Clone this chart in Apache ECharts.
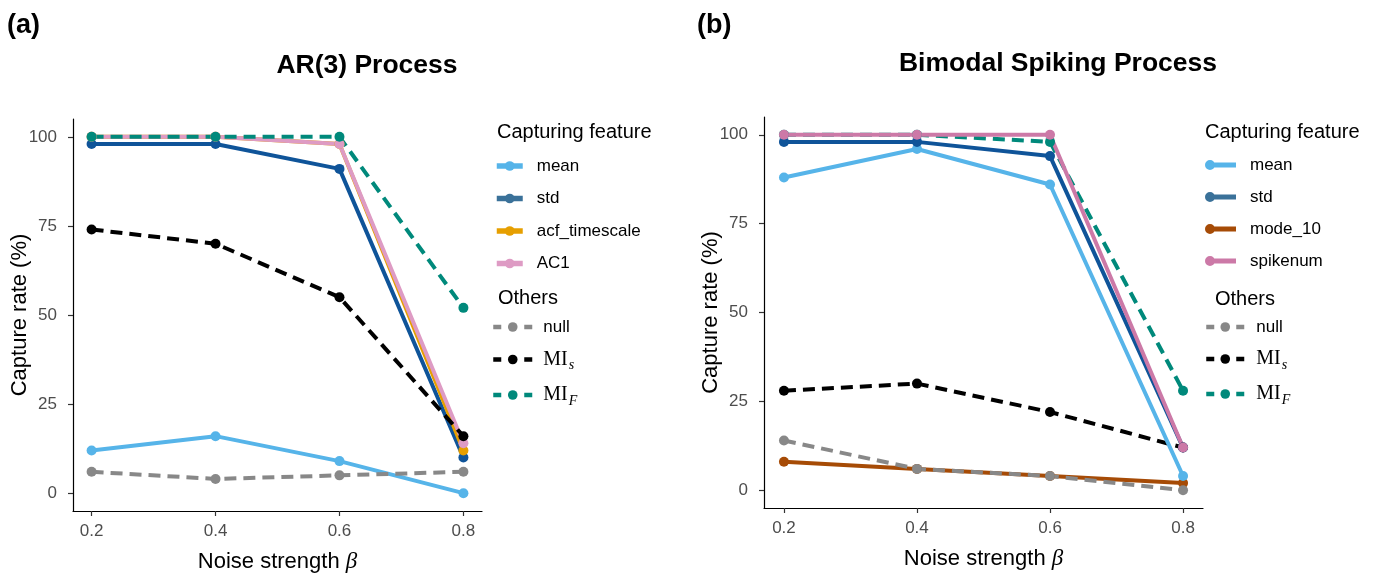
<!DOCTYPE html>
<html><head><meta charset="utf-8">
<script src="https://cdn.jsdelivr.net/npm/echarts@6/dist/echarts.min.js"></script>
<style>html,body{margin:0;padding:0;background:#fff}#c{width:1380px;height:573px}</style>
</head><body><div id="c"></div>
<script>
// ---- data ----
const betas = [0.2, 0.4, 0.6, 0.8];
const xTicks = [0.2, 0.4, 0.6, 0.8];
const yTicks = [0, 25, 50, 75, 100];
// panel (a) AR(3) Process
const arMean = [12, 16, 9, 0];
const arStd = [98, 98, 91, 10];
const arAcf = [100, 100, 98, 12];
const arAC1 = [100, 100, 98, 14];
const arNull = [6, 4, 5, 6];
const arMIs = [74, 70, 55, 16];
const arMIF = [100, 100, 100, 52];
// panel (b) Bimodal Spiking Process
const bsMean = [88, 96, 86, 4];
const bsStd = [98, 98, 94, 12];
const bsMode = [8, 6, 4, 2];
const bsSpike = [100, 100, 100, 12];
const bsNull = [14, 6, 4, 0];
const bsMIs = [28, 30, 22, 12];
const bsMIF = [100, 100, 98, 28];

const C = {
  mean: '#56B4E9', std: '#0F5499', stdKey: '#3A7199', acf: '#E69F00', ac1: '#DE9BC4', spike: '#CC79A7',
  mode: '#A64B06', nul: '#888888', mis: '#000000', mif: '#00897B'
};
const SANS = '"Liberation Sans", Arial, Helvetica, sans-serif';
const SERIF = '"Liberation Serif", "DejaVu Serif", serif';

function mk(name, vals, color, dashed, gi) {
  return {
    type: 'line', name, xAxisIndex: gi, yAxisIndex: gi,
    data: betas.map((b, i) => [b, vals[i]]),
    symbol: 'circle', symbolSize: 10, showSymbol: true,
    lineStyle: { color, width: 4, type: dashed ? [12, 7] : 'solid' },
    itemStyle: { color },
    emphasis: { disabled: true }, silent: true
  };
}

function xAxis(gi) {
  return {
    type: 'value', gridIndex: gi, min: 0.17, max: 0.83,
    name: 'Noise strength {b|β}', nameLocation: 'middle', nameGap: 39, nameMoveOverlap: false,
    nameTextStyle: { fontFamily: SANS, fontSize: 22, color: '#000',
      rich: { b: { fontFamily: SERIF, fontStyle: 'italic', fontSize: 23, color: '#000' } } },
    axisLine: { show: true, onZero: false, lineStyle: { color: '#000', width: 1.2 } },
    axisTick: { show: true, length: 5, lineStyle: { color: '#333', width: 1.2 }, customValues: xTicks },
    axisLabel: { fontFamily: SANS, fontSize: 17, color: '#4D4D4D', margin: 12, customValues: xTicks,
      formatter: v => v.toFixed(1) },
    splitLine: { show: false }
  };
}
function yAxis(gi) {
  return {
    type: 'value', gridIndex: gi, min: -5, max: 105,
    name: 'Capture rate (%)', nameLocation: 'middle', nameGap: 42, nameMoveOverlap: false,
    nameTextStyle: { fontFamily: SANS, fontSize: 22, color: '#000' },
    axisLine: { show: true, onZero: false, lineStyle: { color: '#000', width: 1.2 } },
    axisTick: { show: true, length: 5, lineStyle: { color: '#333', width: 1.2 }, customValues: yTicks },
    axisLabel: { fontFamily: SANS, fontSize: 17, color: '#4D4D4D', margin: 16, customValues: yTicks },
    splitLine: { show: false }
  };
}

const richLeg = {
  mi: { fontFamily: SERIF, fontSize: 20, lineHeight: 20, color: '#000' },
  sub: { fontFamily: SERIF, fontStyle: 'italic', fontSize: 14, lineHeight: 12, verticalAlign: 'bottom', color: '#000', padding: [0, 0, -3, 1] }
};
const legFmt = n => n === 'MI_s' ? '{mi|MI}{sub|s}' : n === 'MI_F' ? '{mi|MI}{sub|F}' : n;

function legText(padLeft) {
  return { fontFamily: SANS, fontSize: 17, color: '#000', lineHeight: 20, padding: [0, 0, 0, padLeft], rich: richLeg };
}
const leftDotIcon = 'path://M0,5a5,5 0 1,1 10,0a5,5 0 1,1 -10,0zM8,2.5H31V7.5H8z';

const option = {
  animation: false,
  backgroundColor: '#fff',
  grid: [
    { left: 73, top: 119, width: 409, height: 392, outerBoundsMode: 'none', containLabel: false },
    { left: 764, top: 117, width: 439, height: 391, outerBoundsMode: 'none', containLabel: false }
  ],
  xAxis: [xAxis(0), xAxis(1)],
  yAxis: [yAxis(0), yAxis(1)],
  legend: [
    { orient: 'vertical', left: 494, top: 156, padding: 0, itemGap: 12.5, itemWidth: 26, itemHeight: 12,
      data: ['mean', { name: 'std', itemStyle: { color: C.stdKey }, lineStyle: { color: C.stdKey } }, 'acf_timescale', 'AC1'],
      selectedMode: false,
      lineStyle: { width: 5.5, type: 'solid' }, textStyle: legText(9) },
    { orient: 'vertical', left: 491, top: 317, padding: 0, itemGap: 12.5, itemWidth: 39, itemHeight: 12,
      data: ['null', 'MI_s', 'MI_F'], selectedMode: false, formatter: legFmt,
      lineStyle: { width: 4.5, type: [8, 23] }, textStyle: legText(6) },
    { orient: 'vertical', left: 1205, top: 155, padding: 0, itemGap: 12, itemWidth: 31, itemHeight: 10,
      data: [
        { name: 'mean', icon: leftDotIcon, itemStyle: { color: C.mean } },
        { name: 'std', icon: leftDotIcon, itemStyle: { color: C.stdKey } },
        { name: 'mode_10', icon: leftDotIcon, itemStyle: { color: C.mode } },
        { name: 'spikenum', icon: leftDotIcon, itemStyle: { color: C.spike } }
      ], selectedMode: false, textStyle: legText(9) },
    { orient: 'vertical', left: 1204, top: 317, padding: 0, itemGap: 12, itemWidth: 38, itemHeight: 12,
      data: ['null', 'MI_s', 'MI_F'], selectedMode: false, formatter: legFmt,
      lineStyle: { width: 4.5, type: [8, 22] }, textStyle: legText(7) }
  ],
  graphic: [
    { type: 'text', left: 7, top: 12, style: { text: '(a)', font: 'bold 27px ' + SANS, fill: '#000' } },
    { type: 'text', left: 697, top: 12, style: { text: '(b)', font: 'bold 27px ' + SANS, fill: '#000' } },
    { type: 'text', x: 367, y: 66, style: { text: 'AR(3) Process', font: 'bold 26.5px ' + SANS, fill: '#000', align: 'center', verticalAlign: 'middle' } },
    { type: 'text', x: 1058, y: 64, style: { text: 'Bimodal Spiking Process', font: 'bold 26.5px ' + SANS, fill: '#000', align: 'center', verticalAlign: 'middle' } },
    { type: 'text', x: 497, y: 132, style: { text: 'Capturing feature', font: '20px ' + SANS, fill: '#000', verticalAlign: 'middle' } },
    { type: 'text', x: 498, y: 298, style: { text: 'Others', font: '20px ' + SANS, fill: '#000', verticalAlign: 'middle' } },
    { type: 'text', x: 1205, y: 132, style: { text: 'Capturing feature', font: '20px ' + SANS, fill: '#000', verticalAlign: 'middle' } },
    { type: 'text', x: 1215, y: 299, style: { text: 'Others', font: '20px ' + SANS, fill: '#000', verticalAlign: 'middle' } }
  ],
  series: [
    mk('mean', arMean, C.mean, false, 0),
    mk('std', arStd, C.std, false, 0),
    mk('acf_timescale', arAcf, C.acf, false, 0),
    mk('AC1', arAC1, C.ac1, false, 0),
    mk('null', arNull, C.nul, true, 0),
    mk('MI_s', arMIs, C.mis, true, 0),
    mk('MI_F', arMIF, C.mif, true, 0),

    mk('mode_10', bsMode, C.mode, false, 1),
    mk('null', bsNull, C.nul, true, 1),
    mk('MI_s', bsMIs, C.mis, true, 1),
    mk('MI_F', bsMIF, C.mif, true, 1),
    mk('mean', bsMean, C.mean, false, 1),
    mk('std', bsStd, C.std, false, 1),
    mk('spikenum', bsSpike, C.spike, false, 1)
  ]
};
const chart = echarts.init(document.getElementById('c'), null, { renderer: 'canvas' });
chart.setOption(option);
</script></body></html>
